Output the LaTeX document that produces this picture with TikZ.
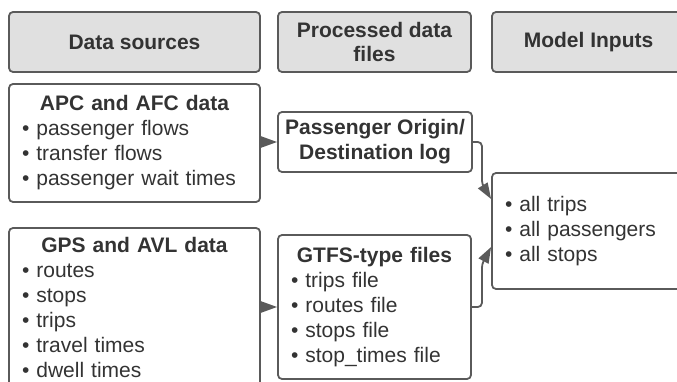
\documentclass[tikz,border=0pt]{standalone}
\usepackage{fontspec}
\setmainfont{Liberation Sans}
\usetikzlibrary{arrows.meta}
\definecolor{edgegray}{HTML}{5A5A5A}
\definecolor{headfill}{HTML}{E0E0E0}
\definecolor{textgray}{HTML}{333333}

\begin{document}
\begin{tikzpicture}[x=1pt, y=-1pt,
    box/.style={draw=edgegray, line width=1.8pt, rounded corners=4pt, text=textgray,
      font=\fontsize{21pt}{25pt}\selectfont, inner sep=0pt},
    header/.style={box, fill=headfill, font=\fontsize{21pt}{24pt}\selectfont\bfseries,
      align=center, minimum height=60pt},
    listbox/.style={box, align=left, inner xsep=13pt},
    conn/.style={draw=edgegray, line width=1.8pt, rounded corners=4pt,
      -{Triangle[length=16pt,width=11pt]}}]
        \useasboundingbox (0,0) rectangle (677,382);
        % column headers
        \node[header, minimum width=251pt] (hsrc) at (134.5,42) {Data sources};
        \node[header, minimum width=193pt] (hproc) at (374.5,42) {Processed data\\files};
        \node[header, minimum width=193pt] (hmodel) at (588.5,42) {Model Inputs};
        % data sources
        \node[listbox, minimum width=251pt, minimum height=118pt, text width=225pt] (apc) at (134.5,143)
            {{\centering\bfseries APC and AFC data\par}
             \textbullet\ passenger flows\par
             \textbullet\ transfer flows\par
             \textbullet\ passenger wait times};
        \node[listbox, minimum width=251pt, minimum height=159pt, text width=225pt] (gps) at (134.5,307.5)
            {{\centering\bfseries GPS and AVL data\par}
             \textbullet\ routes\par
             \textbullet\ stops\par
             \textbullet\ trips\par
             \textbullet\ travel times\par
             \textbullet\ dwell times};
        % processed data files
        \node[box, align=center, font=\fontsize{21pt}{25pt}\selectfont\bfseries,
            minimum width=194pt, minimum height=60pt] (odlog) at (375,142)
            {Passenger Origin/\\Destination log};
        \node[listbox, minimum width=193pt, minimum height=144pt, text width=167pt] (gtfs) at (374.5,307)
            {{\centering\bfseries GTFS-type files\par}
             \textbullet\ trips file\par
             \textbullet\ routes file\par
             \textbullet\ stops file\par
             \textbullet\ stop\_times file};
        % model inputs
        \node[listbox, minimum width=193pt, minimum height=116pt, text width=167pt] (inputs) at (588.5,231)
            {\textbullet\ all trips\par
             \textbullet\ all passengers\par
             \textbullet\ all stops};
        % sources to processed files
        \draw[conn] (apc.east |- odlog.west) -- (odlog.west);
        \draw[conn] (gps.east |- gtfs.west) -- (gtfs.west);
        % processed files to model inputs
        \draw[conn] (odlog.east) -- ++(9,0) -- ++(0,42) -- ([yshift=32pt]inputs.west);
        \draw[conn] (gtfs.east) -- ++(10,0) -- ++(0,-43) -- ([yshift=-16pt]inputs.west);
    \end{tikzpicture}
\end{document}
